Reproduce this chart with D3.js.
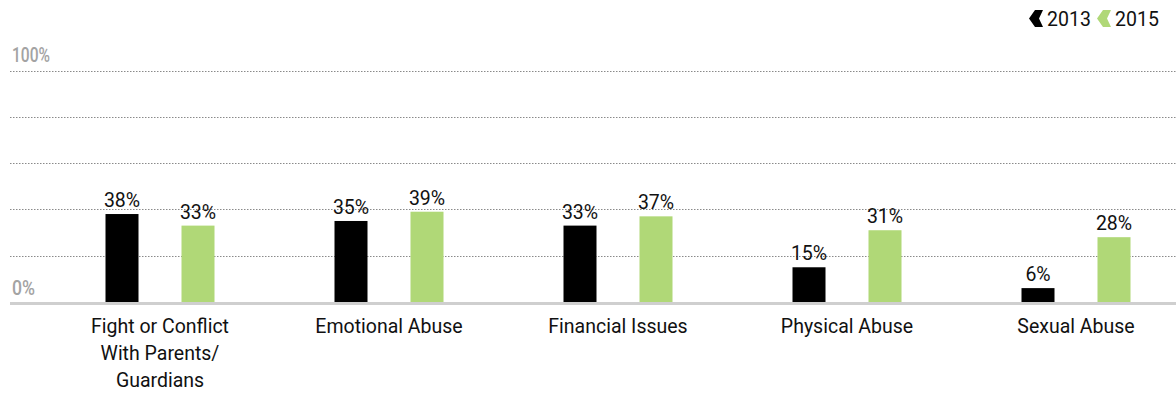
<!DOCTYPE html>
<html>
<head>
<meta charset="utf-8">
<script src="https://cdn.jsdelivr.net/npm/d3@7"></script>
<style>
  html, body { margin: 0; padding: 0; background: #fff; }
  svg { display: block; }
  text { font-family: Roboto, "Liberation Sans", sans-serif; }
</style>
</head>
<body>
<svg id="chart" width="1176" height="397"></svg>
<script>
// Reasons for leaving home, share of respondents
const categories = [
  ["Fight or Conflict", "With Parents/", "Guardians"],
  ["Emotional Abuse"],
  ["Financial Issues"],
  ["Physical Abuse"],
  ["Sexual Abuse"]
];
const values2013 = [38, 35, 33, 15, 6];
const values2015 = [33, 39, 37, 31, 28];
const seriesNames = ["2013", "2015"];
const seriesColors = ["#000000", "#b0d877"];
const gridTicks = [20, 40, 60, 80, 100];
const axisLabels = ["0%", "100%"];

const svg = d3.select("#chart");
const W = 1176;

const x = d3.scaleBand()
  .domain(d3.range(categories.length))
  .range([45.5, 1190.5])
  .padding(0);
const y = d3.scaleLinear().domain([0, 100]).range([302, 70.5]);

const barW = 33;
const offset = 38;

// dotted gridlines
svg.append("g").selectAll("line")
  .data(gridTicks)
  .join("line")
  .attr("x1", 10).attr("x2", W)
  .attr("y1", d => Math.round(y(d)) + 0.5)
  .attr("y2", d => Math.round(y(d)) + 0.5)
  .attr("stroke", "#8a8a8a")
  .attr("stroke-width", 1)
  .attr("stroke-dasharray", "1.5,1.5");

// axis end labels
svg.append("text")
  .attr("x", 12).attr("y", y(100) - 8.5)
  .attr("fill", "#a3a3a3")
  .attr("font-size", 20)
  .attr("font-weight", 500)
  .attr("textLength", 38)
  .attr("lengthAdjust", "spacingAndGlyphs")
  .text(axisLabels[1]);
svg.append("text")
  .attr("x", 12).attr("y", y(0) - 7)
  .attr("fill", "#a3a3a3")
  .attr("font-size", 20)
  .attr("font-weight", 500)
  .attr("textLength", 23)
  .attr("lengthAdjust", "spacingAndGlyphs")
  .text(axisLabels[0]);

const series = [values2013, values2015];
series.forEach((vals, si) => {
  const g = svg.append("g");
  const cx = i => x(i) + x.bandwidth() / 2 + (si === 0 ? -offset : offset);
  g.selectAll("rect")
    .data(vals)
    .join("rect")
    .attr("x", (d, i) => cx(i) - barW / 2)
    .attr("y", d => y(d))
    .attr("width", barW)
    .attr("height", d => y(0) - y(d))
    .attr("fill", seriesColors[si]);
  g.selectAll("text")
    .data(vals)
    .join("text")
    .attr("x", (d, i) => cx(i))
    .attr("y", d => y(d) - 7)
    .attr("text-anchor", "middle")
    .attr("font-size", 19.5)
    .attr("fill", "#111")
    .text(d => d + "%");
});

// baseline
svg.append("line")
  .attr("x1", 10).attr("x2", W)
  .attr("y1", y(0) + 1.5).attr("y2", y(0) + 1.5)
  .attr("stroke", "#cfcfcf")
  .attr("stroke-width", 3);

// category labels
const catG = svg.append("g");
categories.forEach((lines, i) => {
  const t = catG.append("text")
    .attr("x", x(i) + x.bandwidth() / 2)
    .attr("y", 333)
    .attr("text-anchor", "middle")
    .attr("font-size", 19.5)
    .attr("fill", "#111");
  lines.forEach((ln, j) => {
    t.append("tspan")
      .attr("x", x(i) + x.bandwidth() / 2)
      .attr("dy", j === 0 ? 0 : 27)
      .text(ln);
  });
});

// legend with chevron markers
const legend = svg.append("g");
const legendPos = [1029, 1097];
seriesNames.forEach((name, i) => {
  const lx = legendPos[i];
  legend.append("path")
    .attr("d", `M${lx + 14},10 L${lx + 6},10 L${lx},18.5 L${lx + 6},27 L${lx + 14},27 L${lx + 10},18.5 Z`)
    .attr("fill", seriesColors[i]);
  legend.append("text")
    .attr("x", lx + 18)
    .attr("y", 26)
    .attr("font-size", 19.5)
    .attr("fill", "#111")
    .text(name);
});
</script>
</body>
</html>
